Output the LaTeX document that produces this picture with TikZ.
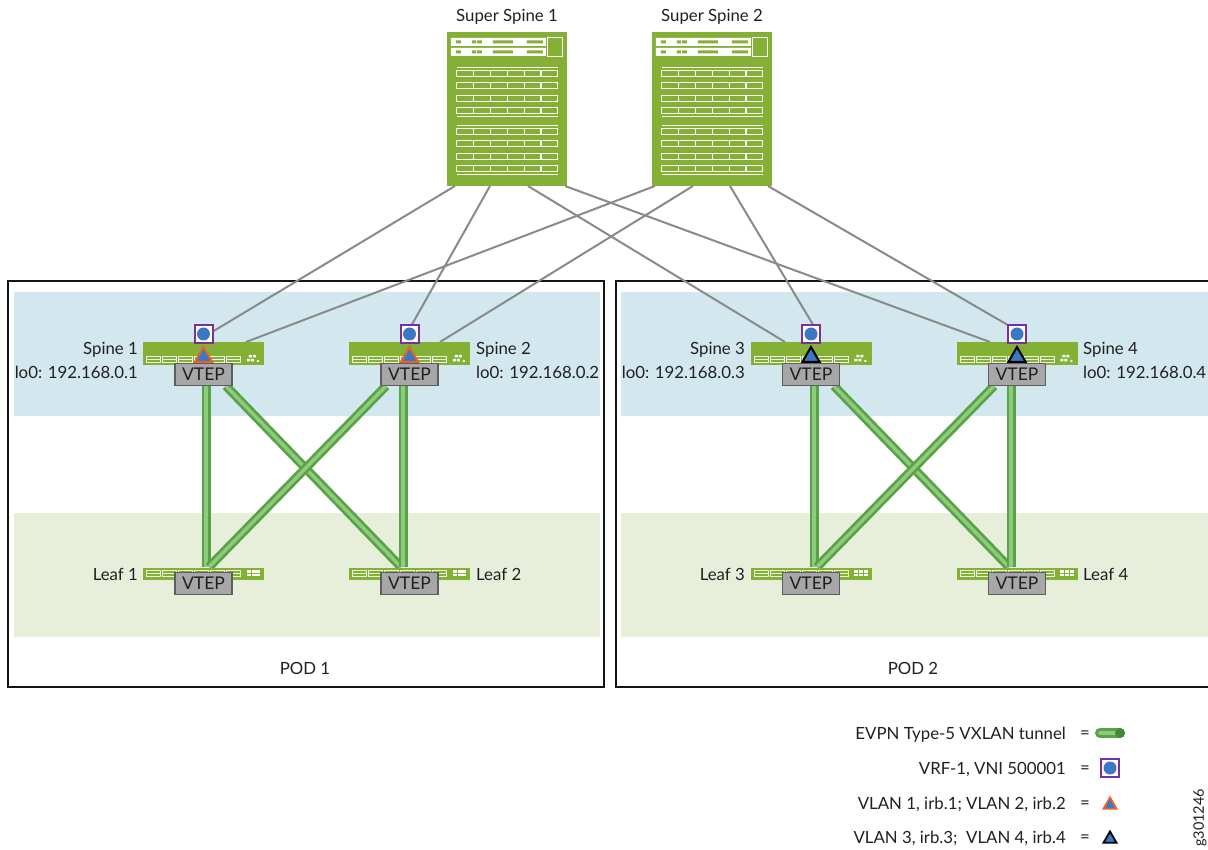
\documentclass[tikz,border=0pt]{standalone}
\usepackage{fontspec}
\setmainfont{Lato}
\usetikzlibrary{shapes.geometric}
\definecolor{devgreen}{HTML}{84B135}
\definecolor{blueband}{HTML}{D3E8EE}
\definecolor{greenband}{HTML}{E7EFDA}
\definecolor{vtepgray}{HTML}{A7A7A9}
\definecolor{vtepborder}{HTML}{5E5E5E}
\definecolor{vrfpurple}{HTML}{7A2F9E}
\definecolor{dotblue}{HTML}{3A78C4}
\definecolor{triorange}{HTML}{E9622A}
\definecolor{linkgray}{HTML}{8A8A8A}
\definecolor{tubedark}{HTML}{5AA247}
\definecolor{tubelight}{HTML}{8FCB7C}
\definecolor{tubeend}{HTML}{3E8C34}
\definecolor{txt}{HTML}{231F20}
\tikzset{
  lbl/.style={font=\fontsize{16.8}{19}\selectfont, text=txt, inner sep=0pt, yshift=-1.8},
  podbox/.style={draw=black!92, line width=2.2},
  link/.style={draw=linkgray, line width=2},
  tubeout/.style={draw=tubedark, line width=9},
  tubein/.style={draw=tubelight, line width=3.5},
  vtep/.style={draw=vtepborder, fill=vtepgray, line width=1.2, minimum width=57, minimum height=22,
    inner sep=0pt, font=\fontsize{17.5}{19}\selectfont, text=txt},
  vrf/.style={draw=vrfpurple, fill=white, line width=2, minimum size=18, inner sep=0pt,
    path picture={\fill[dotblue] (path picture bounding box.center) circle (6.5);}},
  tri/.style={regular polygon, regular polygon sides=3, draw=#1, fill=dotblue, line width=2,
    minimum size=20, inner sep=0pt},
  spinedev/.style={fill=devgreen, minimum width=121, minimum height=23, inner sep=0pt},
  leafdev/.style={fill=devgreen, minimum width=121, minimum height=12, inner sep=0pt},
  ssdev/.style={fill=devgreen, minimum width=120, minimum height=154, inner sep=0pt},
  % chassis front panel of a super spine, origin at its top-left corner
  pics/chassis/.style={code={
    \fill[white] (4,6) rectangle (99,14) (4,16) rectangle (99,24);
    \foreach \yy in {6,16}{
      \fill[devgreen] (9,\yy+2.5) rectangle (14,\yy+5.5)
        (25,\yy+2.5) rectangle (29,\yy+5.5)
        (30,\yy+2.5) rectangle (35,\yy+5.5)
        (46,\yy+2.5) rectangle (66,\yy+5.5)
        (80,\yy+2.5) rectangle (96,\yy+5.5);
    }
    \draw[white, line width=1.3] (101,6) rectangle (116,25);
    \foreach \yy in {39,51,64,76,97,109,122,134}{
      \draw[white, line width=1.2] (10,\yy) rectangle (111,\yy+6);
      \foreach \k in {1,...,5}
        \draw[white, line width=1.2] (10+\k*16.83,\yy) -- (10+\k*16.83,\yy+6);
    }
    \foreach \yy in {36,85,94,143}
      \draw[white, line width=0.9] (10,\yy) -- (111,\yy);
  }},
  % port strip of a spine switch, origin at its top-left corner
  pics/spineports/.style={code={
    \foreach \k in {0,...,5}{
      \draw[white!85!devgreen, line width=0.8] (4+\k*16,15) rectangle (18+\k*16,21);
      \draw[white!85!devgreen, line width=0.8] (4+\k*16,18) -- (18+\k*16,18);
    }
    \fill[white] (106,13) rectangle (109,15.5) (110,13) rectangle (113,15.5)
      (104,17) rectangle (107,19.5) (108,17) rectangle (111,19.5) (114,18) rectangle (116,20);
  }},
  % port strip of a leaf switch, origin at its top-left corner
  pics/leafports/.style={code={
    \foreach \k in {0,...,5}{
      \draw[white!85!devgreen, line width=0.8] (4+\k*16,3) rectangle (18+\k*16,9);
      \draw[white!85!devgreen, line width=0.8] (4+\k*16,6) -- (18+\k*16,6);
    }
    \foreach \c in {0,1,2}\foreach \r in {0,1}
      \fill[white] (104+\c*4.7,3+\r*3.3) rectangle (108+\c*4.7,5.6+\r*3.3);
  }}
}
\begin{document}
\begin{tikzpicture}[x=1pt,y=-1pt]
\useasboundingbox (0,0) rectangle (1208,850);
\fill[white] (0,0) rectangle (1208,850);

% ---- pod backgrounds
\fill[blueband] (14,292) rectangle (600,416);
\fill[blueband] (621,292) rectangle (1208,416);
\fill[greenband] (14,513) rectangle (600,637);
\fill[greenband] (621,513) rectangle (1208,637);
\node[podbox, minimum width=596, minimum height=406, inner sep=0pt] (pod1) at (306,484) {};
\draw[podbox] (1212,281) -- (616,281) -- (616,687) -- (1212,687);
\node[lbl] (pod1lbl) at (305,667) {POD 1};
\node[lbl] (pod2lbl) at (913,667) {POD 2};

% ---- super spines
\node[ssdev] (ss1) at (507,109) {};
\node[ssdev] (ss2) at (712,109) {};
\pic at (ss1.north west) {chassis};
\pic at (ss2.north west) {chassis};
\node[lbl] (ss1lbl) at (507,15) {Super Spine 1};
\node[lbl] (ss2lbl) at (712,15) {Super Spine 2};

% ---- spine and leaf switches
\node[spinedev] (s1) at (203.5,353.5) {};
\node[spinedev] (s2) at (409.5,353.5) {};
\node[spinedev] (s3) at (811,353.5) {};
\node[spinedev] (s4) at (1017,353.5) {};
\node[leafdev] (l1) at (203.5,573.5) {};
\node[leafdev] (l2) at (409.5,573.5) {};
\node[leafdev] (l3) at (811,573.5) {};
\node[leafdev] (l4) at (1017,573.5) {};

% ---- uplinks from super spines to spines
\coordinate (a1) at (455,186);  \coordinate (a2) at (490,186);
\coordinate (a3) at (528,186);  \coordinate (a4) at (565,186);
\coordinate (b1) at (655,186);  \coordinate (b2) at (693,186);
\coordinate (b3) at (730,186);  \coordinate (b4) at (768,186);
\coordinate (s1a) at (212,332); \coordinate (s1b) at (246,342);
\coordinate (s2a) at (410,328); \coordinate (s2b) at (440,342);
\coordinate (s3a) at (785,342); \coordinate (s3b) at (815,328);
\coordinate (s4a) at (990,342); \coordinate (s4b) at (1013,328);
\draw[link] (a1) -- (s1a);
\draw[link] (b1) -- (s1b);
\draw[link] (a2) -- (s2a);
\draw[link] (b2) -- (s2b);
\draw[link] (a3) -- (s3a);
\draw[link] (b3) -- (s3b);
\draw[link] (a4) -- (s4a);
\draw[link] (b4) -- (s4b);

% ---- switch faces (drawn over the uplinks)
\node[spinedev] at (s1) {}; \node[spinedev] at (s2) {};
\node[spinedev] at (s3) {}; \node[spinedev] at (s4) {};
\foreach \n in {s1,s2,s3,s4} \pic at (\n.north west) {spineports};

% ---- VTEP endpoints
\node[vtep] (v1) at (203.5,374.5) {VTEP};
\node[vtep] (v2) at (409.5,374.5) {VTEP};
\node[vtep] (v3) at (811,374.5) {VTEP};
\node[vtep] (v4) at (1017,374.5) {VTEP};

% ---- EVPN Type-5 VXLAN tunnels
\coordinate (t1s) at (206,386);  \coordinate (t1l) at (206,567);
\coordinate (t1x) at (226,386);  \coordinate (t2x) at (386,386);
\coordinate (t2s) at (403,386);  \coordinate (t2l) at (403,567);
\coordinate (l1x) at (209,567);  \coordinate (l2x) at (401,567);
\coordinate (t3s) at (814,386);  \coordinate (t3l) at (814,567);
\coordinate (t3x) at (834,386);  \coordinate (t4x) at (994,386);
\coordinate (t4s) at (1011,386); \coordinate (t4l) at (1011,567);
\coordinate (l3x) at (817,567);  \coordinate (l4x) at (1009,567);
\foreach \p/\q in {t1s/t1l, t1x/l2x, t2x/l1x, t2s/t2l, t3s/t3l, t3x/l4x, t4x/l3x, t4s/t4l}{
  \draw[tubeout] (\p) -- (\q);
  \draw[tubein] (\p) -- (\q);
}
\node[vtep] at (v1) {VTEP}; \node[vtep] at (v2) {VTEP};
\node[vtep] at (v3) {VTEP}; \node[vtep] at (v4) {VTEP};
\node[leafdev] at (l1) {}; \node[leafdev] at (l2) {};
\node[leafdev] at (l3) {}; \node[leafdev] at (l4) {};
\foreach \n in {l1,l2,l3,l4} \pic at (\n.north west) {leafports};
\node[vtep] (lv1) at (203.5,583.5) {VTEP};
\node[vtep] (lv2) at (409.5,583.5) {VTEP};
\node[vtep] (lv3) at (811,583.5) {VTEP};
\node[vtep] (lv4) at (1017,583.5) {VTEP};

% ---- VRF and IRB markers
\node[vrf] (r1) at (203.5,334) {};
\node[vrf] (r2) at (409.5,334) {};
\node[vrf] (r3) at (811,334) {};
\node[vrf] (r4) at (1017,334) {};
\node[tri=triorange] (i1) at (203.5,357) {};
\node[tri=triorange] (i2) at (409.5,357) {};
\node[tri=black] (i3) at (811,357) {};
\node[tri=black] (i4) at (1017,357) {};

% ---- switch labels
\node[lbl, anchor=east] (s1n) at (138,348) {Spine 1};
\node[lbl, anchor=east] (s1ip) at (138,371) {lo0: 192.168.0.1};
\node[lbl, anchor=west] (s2n) at (476,348) {Spine 2};
\node[lbl, anchor=west] (s2ip) at (476,371) {lo0: 192.168.0.2};
\node[lbl, anchor=east] (s3n) at (745,348) {Spine 3};
\node[lbl, anchor=east] (s3ip) at (745,371) {lo0: 192.168.0.3};
\node[lbl, anchor=west] (s4n) at (1083,348) {Spine 4};
\node[lbl, anchor=west] (s4ip) at (1083,371) {lo0: 192.168.0.4};
\node[lbl, anchor=east] (l1n) at (138,573) {Leaf 1};
\node[lbl, anchor=west] (l2n) at (476,573) {Leaf 2};
\node[lbl, anchor=east] (l3n) at (745,573) {Leaf 3};
\node[lbl, anchor=west] (l4n) at (1083,573) {Leaf 4};

% ---- legend
\node[lbl, anchor=east] (k1) at (1066,733) {EVPN Type-5 VXLAN tunnel};
\node[lbl, anchor=east] (k2) at (1066,768) {VRF-1, VNI 500001};
\node[lbl, anchor=east] (k3) at (1066,803) {VLAN 1, irb.1; VLAN 2, irb.2};
\node[lbl, anchor=east] (k4) at (1066,837) {VLAN 3, irb.3;\ \ VLAN 4, irb.4};
\foreach \yy/\nm in {733/e1,768/e2,803/e3,837/e4}
  \node[lbl] (\nm) at (1085,\yy) {=};
\coordinate (kt1) at (1100,733); \coordinate (kt2) at (1120,733);
\draw[draw=tubedark, line width=10, line cap=round] (kt1) -- (kt2);
\draw[draw=tubelight, line width=3.5, line cap=round] (kt1) -- (kt2);
\fill[tubeend] (kt2) circle (5);
\node[vrf] (kvrf) at (1110,768) {};
\node[tri=triorange, minimum size=15, line width=1.8] (kt3) at (1110,805) {};
\node[tri=black, minimum size=15, line width=1.8] (kt4) at (1110,839) {};
\node[lbl, font=\fontsize{14.5}{16}\selectfont, rotate=90] (gid) at (1200,816) {g301246};
\end{tikzpicture}
\end{document}
